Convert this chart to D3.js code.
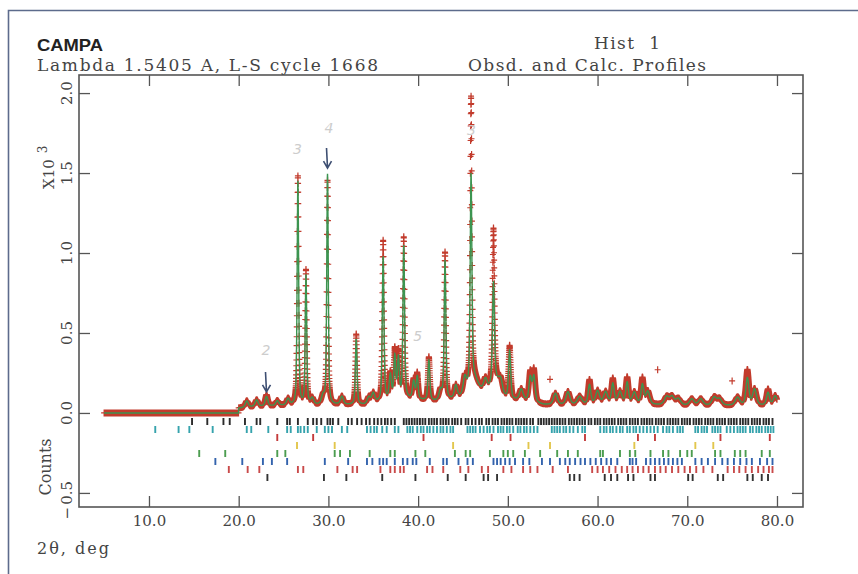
<!DOCTYPE html>
<html>
<head>
<meta charset="utf-8">
<script src="https://cdn.jsdelivr.net/npm/d3@7"></script>
<style>
  body { margin: 0; background: #fff; }
  svg { display: block; }
  text { fill: #444; }
</style>
</head>
<body>
<svg width="858" height="574"></svg>
<script>
// GSAS style Rietveld plot: obs (+), calc (line), reflection markers per phase
// intensities are in units of 10^3 counts

// peak table (2theta, obs height, calc height, fwhm)
var peakPos  = [20.9, 22.0, 23.1, 24.3, 25.5, 26.6, 27.5, 28.2, 29.4, 29.9, 31.5, 33.1, 34.5, 35.0, 36.1, 36.9, 37.4, 37.8, 38.4, 39.5,
                39.9, 41.2, 42.5, 43.0, 44.2, 45.2, 45.9, 46.2, 47.5, 48.4, 48.6, 49.2, 50.2, 51.5, 52.5, 52.9, 55.3, 56.7, 58.0, 59.1,
                60.0, 60.9, 61.7, 62.5, 63.3, 64.1, 65.0, 65.6, 67.7, 68.3, 69.0, 70.5, 71.5, 73.0, 73.6, 75.6, 76.7, 77.5, 79.0, 79.8];
var peakObs  = [0.04, 0.04, 0.07, 0.03, 0.04, 1.43, 0.84, 0.04, 0.05, 1.40, 0.05, 0.44, 0.04, 0.06, 1.00, 0.16, 0.30, 0.28, 1.00, 0.12,
                0.16, 0.27, 0.06, 0.92, 0.08, 0.10, 1.78, 0.10, 0.08, 0.95, 0.10, 0.08, 0.33, 0.07, 0.18, 0.20, 0.07, 0.08, 0.05, 0.15,
                0.08, 0.07, 0.15, 0.07, 0.16, 0.07, 0.16, 0.08, 0.05, 0.05, 0.04, 0.04, 0.04, 0.05, 0.04, 0.05, 0.22, 0.10, 0.10, 0.06];
var peakCalc = [0.04, 0.04, 0.06, 0.03, 0.04, 1.40, 0.81, 0.04, 0.05, 1.44, 0.05, 0.41, 0.04, 0.06, 0.90, 0.15, 0.26, 0.24, 0.95, 0.11,
                0.14, 0.25, 0.06, 0.87, 0.08, 0.10, 1.30, 0.10, 0.08, 0.62, 0.10, 0.08, 0.30, 0.07, 0.15, 0.16, 0.07, 0.08, 0.05, 0.12,
                0.08, 0.07, 0.12, 0.07, 0.13, 0.07, 0.12, 0.08, 0.05, 0.05, 0.04, 0.04, 0.04, 0.05, 0.04, 0.05, 0.17, 0.10, 0.08, 0.06];
var peakWidth = [0.4, 0.4, 0.35, 0.4, 0.4, 0.2, 0.2, 0.4, 0.4, 0.2, 0.4, 0.22, 0.4, 0.4, 0.22, 0.3, 0.25, 0.25, 0.22, 0.3,
                 0.25, 0.25, 0.4, 0.22, 0.4, 0.4, 0.22, 1.2, 0.5, 0.25, 1.0, 0.5, 0.28, 0.5, 0.35, 0.35, 0.5, 0.5, 0.6, 0.35,
                 0.5, 0.5, 0.35, 0.5, 0.35, 0.5, 0.35, 0.5, 0.6, 0.6, 0.6, 0.6, 0.6, 0.6, 0.6, 0.6, 0.4, 0.5, 0.4, 0.5];

// background knots
var bgPos = [20, 22, 25, 28, 31, 34, 36, 38, 40, 42, 44, 46, 48, 50, 52, 54, 58, 62, 66, 70, 74, 78, 80];
var bgVal = [0.03, 0.04, 0.045, 0.045, 0.05, 0.05, 0.07, 0.09, 0.08, 0.07, 0.08, 0.11, 0.11, 0.08, 0.07, 0.05, 0.05, 0.06, 0.05, 0.045, 0.045, 0.045, 0.045];

// single stray observed points
var strayPos = [54.7, 66.7, 75.0];
var strayVal = [0.21, 0.27, 0.20];

// scan range: zero counts recorded before 20 deg
var scanStart = 5.0, scanKnee = 20.0, scanEnd = 80.0;

// reflection positions per phase (2theta)
var phase1 = [14.8, 16.5, 18.3, 19.0, 20.7, 22.0, 22.4, 24.3, 25.4, 25.7, 26.6, 27.7, 28.3, 28.7, 29.2, 29.9, 30.2, 30.5, 31.1, 32.2,
              32.6, 33.2, 33.7, 34.2, 34.6, 35.1, 35.5, 35.9, 36.3, 36.6, 37.0, 37.4, 38.4, 38.7, 39.0, 39.3, 39.6, 39.9, 40.2, 40.5,
              40.8, 41.2, 41.5, 41.8, 42.1, 42.5, 42.8, 43.1, 43.4, 43.8, 44.1, 44.4, 44.8, 45.3, 45.6, 46.0, 46.4, 46.8, 47.1, 47.6,
              47.9, 48.3, 48.6, 48.9, 49.3, 49.6, 49.9, 50.2, 50.5, 50.9, 51.2, 51.5, 51.8, 52.1, 52.5, 52.8, 53.4, 53.7, 54.0, 54.3,
              54.6, 54.9, 55.2, 55.5, 55.8, 56.1, 56.4, 56.8, 57.1, 57.4, 57.7, 58.0, 58.3, 58.6, 59.0, 59.3, 59.7, 60.0, 60.3, 60.7,
              61.0, 61.3, 61.6, 61.9, 62.3, 62.6, 62.9, 63.2, 63.6, 63.9, 64.2, 64.5, 64.9, 65.2, 65.5, 65.8, 66.1, 66.5, 66.8, 67.1,
              67.4, 67.8, 68.1, 68.4, 68.7, 69.0, 69.4, 69.7, 70.0, 70.3, 70.7, 71.0, 71.3, 71.6, 72.0, 72.3, 72.6, 72.9, 73.3, 73.6,
              73.9, 74.2, 74.6, 74.9, 75.2, 75.5, 75.9, 76.2, 76.5, 76.8, 77.2, 77.5, 77.8, 78.1, 78.5, 78.8, 79.1, 79.5];
var phase2 = [10.7, 13.3, 14.5, 17.1, 20.9, 21.4, 23.3, 25.4, 25.8, 26.6, 26.9, 27.3, 27.7, 28.7, 29.6, 30.0, 30.4, 31.5, 32.1, 34.3,
              34.7, 35.1, 35.4, 36.0, 36.5, 37.4, 37.8, 38.8, 39.1, 39.4, 39.9, 40.3, 40.6, 41.0, 41.3, 41.7, 42.1, 42.5, 42.8, 43.2,
              43.6, 43.9, 45.5, 45.8, 46.1, 46.4, 46.9, 47.3, 47.7, 48.0, 48.4, 48.9, 49.2, 49.5, 49.9, 50.2, 50.6, 51.1, 51.4, 51.8,
              52.1, 52.5, 52.9, 53.3, 54.9, 55.2, 55.5, 55.8, 56.2, 56.5, 56.9, 57.3, 57.8, 58.3, 58.6, 60.3, 60.7, 61.0, 61.4, 61.7,
              62.1, 62.5, 62.8, 63.3, 63.6, 64.0, 64.3, 64.7, 65.1, 65.5, 65.9, 66.3, 66.7, 67.3, 67.7, 68.0, 68.4, 68.9, 69.2, 69.5,
              70.9, 71.2, 71.6, 71.9, 72.2, 72.8, 73.1, 73.4, 73.7, 74.4, 74.8, 75.2, 75.6, 75.9, 76.2, 76.5, 77.0, 77.3, 77.7, 78.0,
              78.3, 78.7, 79.0, 79.3, 79.6];
var phase3 = [24.3, 28.3, 40.6, 48.2, 50.3, 58.6, 64.5, 66.4, 73.7, 79.2];
var phase4 = [26.5, 30.7, 43.9, 52.3, 54.7, 64.1, 70.9, 72.9];
var phase5 = [15.6, 18.5, 24.3, 25.2, 30.7, 31.3, 32.4, 34.6, 36.9, 37.4, 39.7, 40.8, 44.1, 45.3, 45.8, 48.0, 49.5, 50.0, 50.6, 51.9,
              53.6, 55.5, 56.7, 57.8, 60.3, 60.6, 62.5, 63.6, 64.2, 65.9, 67.3, 67.9, 69.2, 70.0, 70.5, 73.1, 73.7, 75.3, 75.9, 76.5,
              78.3, 79.2];
var phase6 = [17.4, 20.4, 22.7, 23.7, 25.4, 29.6, 32.2, 34.3, 34.9, 35.7, 36.1, 36.5, 37.4, 38.3, 38.8, 39.4, 39.8, 41.3, 42.8, 43.2,
              44.5, 45.5, 46.1, 48.4, 48.8, 49.2, 49.7, 50.2, 50.8, 51.7, 52.4, 53.8, 54.7, 55.8, 56.4, 56.9, 57.5, 58.1, 58.6, 59.2,
              59.8, 60.4, 61.0, 61.5, 62.2, 63.6, 63.9, 64.3, 65.4, 65.9, 66.4, 66.9, 67.4, 67.9, 68.4, 68.9, 69.4, 70.9, 71.6, 72.3,
              73.1, 73.9, 74.5, 75.2, 75.9, 76.6, 77.2, 78.1, 78.9, 79.5];
var phase7 = [18.9, 21.0, 22.3, 26.6, 27.2, 31.0, 32.7, 33.2, 35.8, 36.9, 37.4, 38.0, 38.4, 41.0, 41.6, 42.8, 44.7, 45.6, 47.1, 47.8,
              49.5, 50.4, 51.7, 52.5, 53.3, 55.0, 56.7, 59.4, 60.0, 60.6, 61.3, 62.0, 62.7, 63.3, 63.9, 64.5, 65.1, 65.7, 66.4, 67.0,
              67.6, 68.3, 69.0, 69.7, 70.3, 71.0, 71.8, 72.8, 74.5, 75.2, 75.8, 76.5, 77.2, 77.9, 78.5, 79.1, 79.5];
var phase8 = [23.2, 29.5, 32.0, 36.0, 39.7, 43.3, 45.3, 47.3, 47.8, 48.8, 56.9, 57.4, 58.0, 60.8, 61.5, 62.2, 63.4, 64.0, 65.9, 66.4,
              70.1, 70.6, 73.4, 74.0, 76.7, 77.3, 78.3, 79.0];
var phaseColors = ["#2b2b2b", "#36a3ad", "#c43b3b", "#e2c64c", "#4c9d50", "#3363ad", "#c94a4a", "#333333"];

var xTicks = [10, 20, 30, 40, 50, 60, 70, 80];
var yTicks = [-0.5, 0.0, 0.5, 1.0, 1.5, 2.0];

// pencil marks on the printout
var notePos  = [23.0, 26.5, 30.0, 39.9, 45.9];
var noteVal  = [0.36, 1.62, 1.75, 0.45, 1.74];
var noteText = ["2", "3", "4", "5", "3"];

var svg = d3.select("svg"),
    serif = "'DejaVu Serif', serif";

var x = d3.scaleLinear().domain([2.2, 82.9]).range([79, 803]),
    y = d3.scaleLinear().domain([-0.588, 2.113]).range([507, 75]);

var bg = d3.scaleLinear().domain(bgPos).range(bgVal).clamp(true);

// pseudo-Voigt, eta = 0.5
function shape(dx, w) {
  var q = 4 * dx * dx / (w * w);
  return 0.5 / (1 + q) + 0.5 * Math.exp(-Math.LN2 * q);
}

function profile(t, heights) {
  if (t < scanKnee) return 0;
  var s = bg(t);
  for (var i = 0; i < peakPos.length; i++) {
    var dx = t - peakPos[i];
    if (Math.abs(dx) < 8) s += heights[i] * shape(dx, peakWidth[i]);
  }
  return s;
}

var steps = d3.range(scanStart, scanKnee, 0.02).concat(d3.range(scanKnee, scanEnd + 0.001, 0.01));
var obs = steps.map(function(t) { return [t, profile(t, peakObs)]; });
var calc = steps.map(function(t) { return [t, profile(t, peakCalc)]; });
strayPos.forEach(function(t, i) { obs.push([t, strayVal[i]]); });

// outer border of the scanned page
svg.append("rect").attr("width", 858).attr("height", 574).attr("fill", "#fff");
svg.append("path")
    .attr("d", "M8.5,574V10.5H858")
    .attr("fill", "none")
    .attr("stroke", "#5d6b8c")
    .attr("stroke-width", 1.6);

// titles
svg.append("text").attr("x", 37).attr("y", 51)
    .attr("font-family", "'Liberation Sans', Arial, sans-serif").attr("font-weight", "bold")
    .attr("font-size", 17).attr("textLength", 66).attr("lengthAdjust", "spacingAndGlyphs")
    .style("fill", "#222")
    .text("CAMPA");
svg.append("text").attr("x", 37).attr("y", 71)
    .attr("font-family", serif).attr("font-size", 17).attr("textLength", 341)
    .text("Lambda 1.5405 A, L-S cycle 1668");
svg.append("text").attr("x", 594).attr("y", 49)
    .attr("font-family", serif).attr("font-size", 17).attr("xml:space", "preserve")
    .attr("textLength", 66)
    .text("Hist  1");
svg.append("text").attr("x", 468).attr("y", 71)
    .attr("font-family", serif).attr("font-size", 17).attr("textLength", 238)
    .text("Obsd. and Calc. Profiles");

// axes, ticks point inwards
var axisStyle = function(g) {
  g.select(".domain").remove();
  g.selectAll("line").attr("stroke", "#555").attr("stroke-width", 1.3);
};

svg.append("g").attr("transform", "translate(0,507)")
    .call(d3.axisBottom(x).tickValues(xTicks).tickSize(-11).tickPadding(8).tickFormat(d3.format(".1f")))
    .call(axisStyle)
    .selectAll("text").attr("font-family", serif).attr("font-size", 15).style("fill", "#444");
svg.append("g").attr("transform", "translate(0,75)")
    .call(d3.axisTop(x).tickValues(xTicks).tickSize(-11).tickFormat(""))
    .call(axisStyle);
svg.append("g").attr("transform", "translate(79,0)")
    .call(d3.axisLeft(y).tickValues(yTicks).tickSize(-11).tickFormat(""))
    .call(axisStyle);
svg.append("g").attr("transform", "translate(803,0)")
    .call(d3.axisRight(y).tickValues(yTicks).tickSize(-11).tickFormat(""))
    .call(axisStyle);

// rotated y labels
var ylab = svg.append("g").selectAll("g").data(yTicks).join("g")
    .attr("transform", function(d) { return "translate(72," + y(d) + ") rotate(-90)"; })
    .attr("font-family", serif).attr("font-size", 15);
ylab.append("text").attr("text-anchor", "middle")
    .text(function(d) { return d3.format(".1f")(Math.abs(d)); });
ylab.filter(function(d) { return d < 0; }).append("text")
    .attr("x", -14).attr("text-anchor", "end")
    .text("\u2212");

svg.append("text")
    .attr("transform", "translate(54,189) rotate(-90)")
    .attr("font-family", serif).attr("font-size", 15)
    .text("X10")
    .append("tspan").attr("dx", 6).attr("dy", -7).attr("font-size", 12).text("3");
svg.append("text")
    .attr("transform", "translate(51,467) rotate(-90)")
    .attr("font-family", serif).attr("font-size", 16).attr("text-anchor", "middle")
    .text("Counts");
svg.append("text").attr("x", 37).attr("y", 554)
    .attr("font-family", serif).attr("font-size", 16).attr("textLength", 72)
    .text("2\u03b8, deg");

// frame
svg.append("rect")
    .attr("x", 79).attr("y", 75).attr("width", 724).attr("height", 432)
    .attr("fill", "none").attr("stroke", "#555").attr("stroke-width", 1.6);

// reflection markers
var phases = [phase1, phase2, phase3, phase4, phase5, phase6, phase7, phase8];
var row = d3.scalePoint().domain(d3.range(phases.length)).range([421.5, 477.5]);
phases.forEach(function(list, i) {
  svg.append("g").selectAll("line").data(list).join("line")
      .attr("x1", function(d) { return x(d); })
      .attr("x2", function(d) { return x(d); })
      .attr("y1", row(i) - 3.5)
      .attr("y2", row(i) + 3.5)
      .attr("stroke", phaseColors[i])
      .attr("stroke-width", 1.9);
});

// observed crosses
var p = d3.path();
obs.forEach(function(d) {
  var px = x(d[0]), py = y(d[1]);
  p.moveTo(px - 3, py); p.lineTo(px + 3, py);
  p.moveTo(px, py - 3.5); p.lineTo(px, py + 3.5);
});
svg.append("path")
    .attr("d", p.toString())
    .attr("fill", "none")
    .attr("stroke", "#c23b2c")
    .attr("stroke-width", 1.2);

// calculated profile
svg.append("path")
    .datum(calc)
    .attr("d", d3.line().x(function(d) { return x(d[0]); }).y(function(d) { return y(d[1]); }))
    .attr("fill", "none")
    .attr("stroke", "#3c9450")
    .attr("stroke-width", 1.4);

// pencil notes and arrows
svg.append("g").selectAll("text").data(notePos).join("text")
    .attr("x", function(d) { return x(d) - 4; })
    .attr("y", function(d, i) { return y(noteVal[i]); })
    .attr("font-family", "'DejaVu Sans', sans-serif").attr("font-style", "italic")
    .attr("font-size", 14)
    .style("fill", "#cdcdcd")
    .text(function(d, i) { return noteText[i]; });

var arrowAt = [[23.1, 0.1], [29.9, 1.5]];
arrowAt.forEach(function(a) {
  var ax = x(a[0]), ay = y(a[1]) - 5;
  svg.append("path")
      .attr("d", "M" + (ax - 1) + "," + (ay - 20) + "L" + ax + "," + ay +
                 "M" + (ax - 4) + "," + (ay - 7) + "L" + ax + "," + ay + "L" + (ax + 4) + "," + (ay - 7))
      .attr("fill", "none")
      .attr("stroke", "#3e4f72")
      .attr("stroke-width", 1.6);
});
</script>
</body>
</html>
